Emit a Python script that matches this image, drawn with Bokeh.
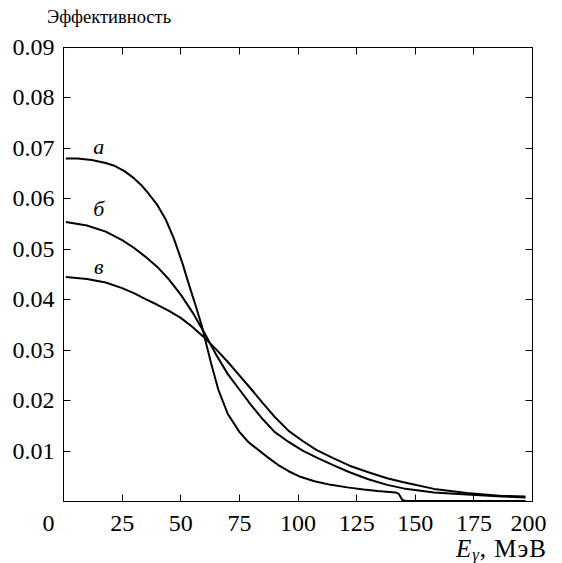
from bokeh.plotting import figure
from bokeh.models import Range1d, FixedTicker, LinearAxis, Label, NumeralTickFormatter, Div
from bokeh.layouts import column
from bokeh.embed import file_html
from bokeh.resources import INLINE

# ---- data ----
x_a = [1, 6, 12, 18, 22, 26, 30, 33, 36, 40, 43.6, 47, 50.6, 53.5, 56.5, 59, 61, 63, 66, 70, 75, 79, 87, 92, 96, 101, 107, 114, 121, 128, 134, 141.5, 143, 144.5, 146, 170, 197]
y_a = [0.0680, 0.0680, 0.0677, 0.0671, 0.0665, 0.0655, 0.0641, 0.0628, 0.0612, 0.0588, 0.0559, 0.0522, 0.0474, 0.0430, 0.0386, 0.0348, 0.0310, 0.0273, 0.0222, 0.0174, 0.0138, 0.0117, 0.0088, 0.0071, 0.0060, 0.0049, 0.0040, 0.0033, 0.0028, 0.0024, 0.0021, 0.0018, 0.0015, 0.0003, 0.0001, 0.0001, 0.0001]

x_b = [1, 10, 18, 25, 30, 35, 40, 45, 50, 55, 60, 65, 70, 75, 80, 85, 90, 96, 102, 108, 115, 122, 130, 138, 145, 158, 172, 187, 197]
y_b = [0.0554, 0.0547, 0.0535, 0.0518, 0.0503, 0.0485, 0.0465, 0.0440, 0.0410, 0.0375, 0.0335, 0.0292, 0.0253, 0.0222, 0.0191, 0.0163, 0.0138, 0.0118, 0.0101, 0.0087, 0.0072, 0.0058, 0.0044, 0.0033, 0.0026, 0.0018, 0.0014, 0.0010, 0.0008]

x_c = [1, 10, 18, 25, 30, 35, 40, 45, 50, 55, 60, 65, 70, 75, 80, 85, 90, 96, 102, 108, 115, 122, 130, 138, 145, 158, 172, 187, 197]
y_c = [0.0445, 0.0441, 0.0434, 0.0423, 0.0413, 0.0401, 0.0390, 0.0378, 0.0364, 0.0346, 0.0325, 0.0302, 0.0277, 0.0250, 0.0223, 0.0195, 0.0168, 0.0140, 0.0120, 0.0102, 0.0086, 0.0071, 0.0058, 0.0046, 0.0038, 0.0025, 0.0017, 0.0011, 0.0010]

curve_names = ["а", "б", "в"]
curve_label_x = [15, 15, 15]
curve_label_y = [0.0704, 0.0581, 0.0466]

x_ticks = [0, 25, 50, 75, 100, 125, 150, 175, 200]
y_ticks = [0.01, 0.02, 0.03, 0.04, 0.05, 0.06, 0.07, 0.08, 0.09]

y_title = "Эффективность"
x_title_main = "E"
x_title_sub = "γ"
x_title_unit = ", МэВ"

FONT = "Liberation Serif"
FS = "24px"

p = figure(title=None, frame_width=469, frame_height=454,
           x_range=Range1d(0, 200), y_range=Range1d(0, 0.09),
           output_backend="svg", toolbar_location=None,
           min_border_left=63, min_border_top=17, min_border_right=14, min_border_bottom=20)
p.grid.visible = False
p.outline_line_color = "black"
p.outline_line_width = 1
p.background_fill_color = "white"
p.border_fill_color = "white"

p.add_layout(LinearAxis(), "above")
p.add_layout(LinearAxis(), "right")

for ax in p.xaxis:
    ax.ticker = FixedTicker(ticks=x_ticks)
for ax in p.yaxis:
    ax.ticker = FixedTicker(ticks=y_ticks)
    ax.formatter = NumeralTickFormatter(format="0.00")

for ax in p.axis:
    ax.axis_line_color = "black"
    ax.axis_line_width = 1
    ax.major_tick_in = 7
    ax.major_tick_out = 0
    ax.major_tick_line_color = "black"
    ax.major_tick_line_width = 1
    ax.minor_tick_line_color = None
    ax.major_label_text_font = FONT
    ax.major_label_text_font_size = FS
    ax.major_label_text_color = "black"

p.above[0].major_label_overrides = {t: "" for t in x_ticks}
p.above[0].major_label_standoff = 0
p.above[0].major_label_text_font_size = "2px"
p.right[0].major_label_overrides = {t: "" for t in y_ticks}
p.right[0].major_label_standoff = 0
p.right[0].major_label_text_font_size = "2px"

p.below[0].major_label_overrides = {0: "0" + "\u00a0" * 5}
p.below[0].major_label_standoff = 8
p.left[0].major_label_standoff = 9

for xs, ys in [(x_a, y_a), (x_b, y_b), (x_c, y_c)]:
    p.line(xs, ys, line_color="black", line_width=2)

for name, lx, ly in zip(curve_names, curve_label_x, curve_label_y):
    p.add_layout(Label(x=lx, y=ly, text=name, text_font=FONT, text_font_size="22px",
                       text_font_style="italic", text_align="center", text_baseline="middle",
                       text_color="black"))

title_html = (
    '<div style="padding-left:47px; padding-top:8px; font-family:\'Liberation Serif\'; '
    'font-size:18.5px; line-height:19px; color:black; white-space:nowrap;">' + y_title + '</div>'
)
title_div = Div(text=title_html, width=547, height=30, margin=(0, 0, 0, 0))

xlabel_html = (
    '<div style="width:547px; text-align:right; font-family:\'Liberation Serif\'; font-size:25px; '
    'line-height:21px; letter-spacing:1px; color:black; white-space:nowrap;">'
    '<i>' + x_title_main + '</i>'
    '<span style="display:inline-block; font-style:italic; font-size:17px; line-height:10px; '
    'position:relative; top:3px;">' + x_title_sub + '</span>'
    + x_title_unit.replace(" ", "&nbsp;") + '</div>'
)
xlabel_div = Div(text=xlabel_html, width=547, height=22, margin=(0, 0, 0, 0))

layout = column(title_div, p, xlabel_div, spacing=0)
open("out.html", "w").write(file_html(layout, INLINE))
